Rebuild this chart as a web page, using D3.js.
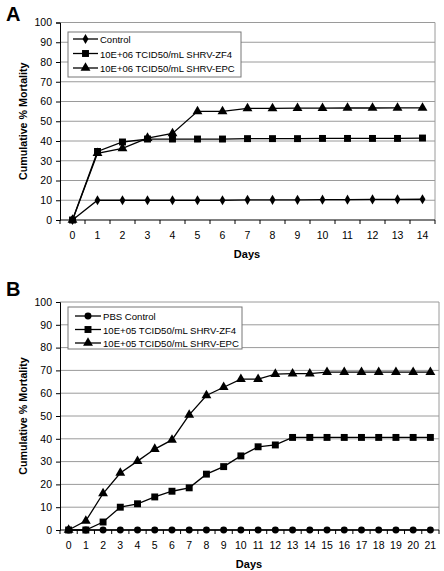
<!DOCTYPE html>
<html><head><meta charset="utf-8">
<script src="https://cdn.jsdelivr.net/npm/d3@7"></script>
<style>body{margin:0;background:#fff}svg{display:block}text{font-family:"Liberation Sans",Arial,sans-serif}</style>
</head><body><svg id="c" width="444" height="571"></svg>
<script>
const yTicks = [0,10,20,30,40,50,60,70,80,90,100];

const daysA = d3.range(0,15);
const controlA = [0,10,10,10,10,10,10,10.2,10.2,10.2,10.3,10.3,10.4,10.4,10.5];
const zf4A = [0,34.7,39.5,41,41,41,41,41.2,41.2,41.2,41.3,41.3,41.3,41.3,41.5];
const epcA = [0,33.8,36.3,41.5,43.8,55,55,56.5,56.5,56.6,56.6,56.7,56.7,56.8,56.8];
const labelsA = ["Control","10E+06 TCID50/mL SHRV-ZF4","10E+06 TCID50/mL SHRV-EPC"];

const daysB = d3.range(0,22);
const controlB = daysB.map(()=>0);
const zf4B = [0,0,3.5,10,11.5,14.5,17,18.5,24.5,27.8,32.5,36.5,37.3,40.6,40.6,40.6,40.6,40.6,40.6,40.6,40.6,40.6];
const epcB = [0,4,16,25,30.2,35.5,39.5,50.5,59,62.6,66.2,66.2,68.4,68.6,68.6,69.2,69.2,69.2,69.2,69.2,69.2,69.2];
const labelsB = ["PBS Control","10E+05 TCID50/mL SHRV-ZF4","10E+05 TCID50/mL SHRV-EPC"];

const svg = d3.select("#c");

function sym(type){
  if(type==="diamond") return d3.symbol().type(d3.symbolDiamond).size(30)();
  if(type==="square") return d3.symbol().type(d3.symbolSquare).size(48)();
  if(type==="triangle") return d3.symbol().type(d3.symbolTriangle).size(42)();
  return d3.symbol().type(d3.symbolCircle).size(38)();
}

function panel(o){
  const g = svg.append("g");
  const x = d3.scaleBand().domain(o.days).range([o.left,o.right]);
  const y = d3.scaleLinear().domain([0,100]).range([o.bottom,o.top]);
  const cx = d => x(d)+x.bandwidth()/2;
  g.append("g").selectAll("line").data(yTicks.filter(t=>t>0)).join("line")
    .attr("x1",o.left).attr("x2",o.right).attr("y1",d=>y(d)).attr("y2",d=>y(d))
    .attr("stroke","#9a9a9a").attr("stroke-width",1);
  g.append("line").attr("x1",o.right).attr("x2",o.right).attr("y1",o.top).attr("y2",o.bottom)
    .attr("stroke","#9a9a9a");
  const ya = g.append("g").attr("transform",`translate(${o.left},0)`)
    .call(d3.axisLeft(y).tickValues(yTicks).tickSize(4).tickPadding(4));
  ya.select(".domain").attr("stroke","#000");
  ya.selectAll("text").attr("font-size",10.5).attr("fill","#000").attr("font-family","Liberation Sans, Arial, sans-serif");
  const xa = g.append("g").attr("transform",`translate(0,${o.bottom})`);
  xa.append("line").attr("x1",o.left).attr("x2",o.right).attr("stroke","#000");
  const bounds = o.days.map(d=>x(d)).concat([o.right]);
  xa.selectAll("line.tk").data(bounds).join("line").attr("class","tk")
    .attr("x1",d=>d).attr("x2",d=>d).attr("y1",0).attr("y2",4).attr("stroke","#000");
  xa.selectAll("text.xl").data(o.days).join("text").attr("class","xl")
    .attr("x",d=>cx(d)).attr("y",o.tickY-o.bottom).attr("text-anchor","middle")
    .attr("font-size",10.5).text(d=>d);
  g.append("text").attr("transform",`translate(${o.ytX},${(o.top+o.bottom)/2}) rotate(-90)`)
    .attr("text-anchor","middle").attr("font-size",10.7).attr("font-weight","bold").text("Cumulative % Mortality");
  g.append("text").attr("x",o.daysX).attr("y",o.daysY).attr("text-anchor","middle")
    .attr("font-size",11).attr("font-weight","bold").text("Days");
  g.append("text").attr("x",6).attr("y",o.letterY).attr("font-size",20).attr("font-weight","bold").text(o.letter);
  const line = d3.line().x((d,i)=>cx(o.days[i])).y(d=>y(d));
  o.series.forEach(s=>{
    g.append("path").attr("d",line(s.values)).attr("fill","none").attr("stroke","#000").attr("stroke-width",1.3);
  });
  o.series.forEach(s=>{
    g.append("g").selectAll("path").data(s.values).join("path")
      .attr("transform",(d,i)=>`translate(${cx(o.days[i])},${y(d)})`)
      .attr("d",sym(s.marker)).attr("fill","#000");
  });
  const lg = g.append("g");
  lg.append("rect").attr("x",o.leg.x).attr("y",o.leg.y).attr("width",o.leg.w).attr("height",o.leg.h)
    .attr("fill","#fff").attr("stroke","#777");
  const texts = [];
  o.series.forEach((s,i)=>{
    const yy = o.leg.y + o.leg.first + i*o.leg.step;
    lg.append("line").attr("x1",o.leg.x+o.leg.l1).attr("x2",o.leg.x+o.leg.l2).attr("y1",yy).attr("y2",yy)
      .attr("stroke","#000").attr("stroke-width",1.3);
    lg.append("path").attr("transform",`translate(${o.leg.x+(o.leg.l1+o.leg.l2)/2},${yy})`).attr("d",sym(s.marker));
    texts.push(lg.append("text").attr("x",o.leg.x+o.leg.tx).attr("y",yy+4).attr("font-size",10.5).text(s.label));
  });
  const wmax = d3.max(texts, t=>t.node().getComputedTextLength());
  const fs = 10.5*o.leg.textW/wmax;
  texts.forEach(t=>t.attr("font-size",fs));
}

panel({letter:"A",letterY:21,days:daysA,left:60,right:435,top:22.5,bottom:220,tickY:239,ytX:27,daysX:247,daysY:258,
  series:[{values:controlA,marker:"diamond",label:labelsA[0]},{values:zf4A,marker:"square",label:labelsA[1]},{values:epcA,marker:"triangle",label:labelsA[2]}],
  leg:{x:68,y:32,w:173,h:45,first:7,step:14.5,l1:5,l2:30,tx:32,textW:135}});

panel({letter:"B",letterY:296,days:daysB,left:60,right:439,top:302,bottom:530,tickY:549,ytX:27,daysX:249,daysY:568,
  series:[{values:controlB,marker:"circle",label:labelsB[0]},{values:zf4B,marker:"square",label:labelsB[1]},{values:epcB,marker:"triangle",label:labelsB[2]}],
  leg:{x:68,y:307,w:174,h:42,first:9,step:13.5,l1:7,l2:33,tx:35,textW:136}});
</script></body></html>
